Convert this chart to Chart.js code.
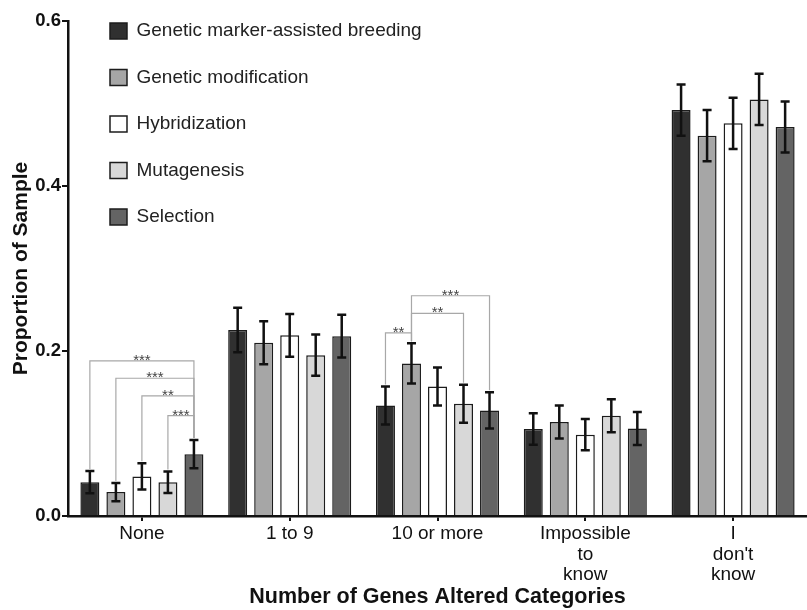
<!DOCTYPE html>
<html>
<head>
<meta charset="utf-8">
<script src="https://cdn.jsdelivr.net/npm/chart.js@4"></script>
<style>
  html, body { margin: 0; padding: 0; background: #fff; }
  canvas { display: block; }
</style>
</head>
<body>
<canvas id="genesChart" width="807" height="610"></canvas>
<script>
// categories on the x axis (arrays = multi-line labels)
const categories = ['None', '1 to 9', '10 or more', ['Impossible', 'to', 'know'], ['I', "don't", 'know']];
const methods = ['Genetic marker-assisted breeding', 'Genetic modification', 'Hybridization', 'Mutagenesis', 'Selection'];
const yTicks = [0, 0.2, 0.4, 0.6];

// proportions and error bar half-widths, one array per method
const markerAssisted = [0.041, 0.2255, 0.134, 0.1055, 0.492];
const markerAssistedErr = [0.0135, 0.027, 0.023, 0.019, 0.031];
const modification = [0.029, 0.210, 0.185, 0.114, 0.461];
const modificationErr = [0.011, 0.026, 0.0245, 0.020, 0.031];
const hybridization = [0.048, 0.219, 0.157, 0.0986, 0.476];
const hybridizationErr = [0.016, 0.026, 0.023, 0.019, 0.031];
const mutagenesis = [0.041, 0.195, 0.136, 0.1216, 0.505];
const mutagenesisErr = [0.013, 0.025, 0.023, 0.020, 0.031];
const selection = [0.075, 0.218, 0.128, 0.106, 0.4715];
const selectionErr = [0.017, 0.026, 0.022, 0.020, 0.031];

// significance brackets: category index, dataset from, dataset to, bracket height, stars
const brackets = [
    [0, 0, 4, 0.188, '***'],
    [0, 1, 4, 0.167, '***'],
    [0, 2, 4, 0.1455, '**'],
    [0, 3, 4, 0.1216, '***'],
    [2, 0, 1, 0.222, '**'],
    [2, 1, 3, 0.2457, '**'],
    [2, 1, 4, 0.267, '***']
];

const colors = ['#303030', '#a6a6a6', '#ffffff', '#d8d8d8', '#646464'];
const values = [markerAssisted, modification, hybridization, mutagenesis, selection];
const errors = [markerAssistedErr, modificationErr, hybridizationErr, mutagenesisErr, selectionErr];

Chart.defaults.font.family = "'Liberation Sans', Arial, sans-serif";
Chart.defaults.color = '#111';

const errorBars = {
    id: 'errorBars',
    afterDatasetsDraw(chart) {
        const ctx = chart.ctx;
        const y = chart.scales.y;
        ctx.save();
        ctx.strokeStyle = '#111';
        ctx.lineWidth = 2.5;
        chart.data.datasets.forEach((ds, i) => {
            chart.getDatasetMeta(i).data.forEach((bar, j) => {
                const top = y.getPixelForValue(ds.data[j] + ds.errors[j]);
                const bottom = y.getPixelForValue(ds.data[j] - ds.errors[j]);
                ctx.beginPath();
                ctx.moveTo(bar.x, top);
                ctx.lineTo(bar.x, bottom);
                ctx.moveTo(bar.x - 4.5, top);
                ctx.lineTo(bar.x + 4.5, top);
                ctx.moveTo(bar.x - 4.5, bottom);
                ctx.lineTo(bar.x + 4.5, bottom);
                ctx.stroke();
            });
        });
        ctx.restore();
    }
};

const sigBrackets = {
    id: 'sigBrackets',
    afterDatasetsDraw(chart) {
        const ctx = chart.ctx;
        const y = chart.scales.y;
        const ds = chart.data.datasets;
        ctx.save();
        brackets.forEach(b => {
            const [cat, a, c, level, stars] = b;
            const barA = chart.getDatasetMeta(a).data[cat];
            const barC = chart.getDatasetMeta(c).data[cat];
            const ly = y.getPixelForValue(level);
            const endA = y.getPixelForValue(ds[a].data[cat] + ds[a].errors[cat]) - 2;
            const endC = y.getPixelForValue(ds[c].data[cat] + ds[c].errors[cat]) - 2;
            ctx.strokeStyle = '#a8a8a8';
            ctx.lineWidth = 1.2;
            ctx.beginPath();
            ctx.moveTo(barA.x, endA);
            ctx.lineTo(barA.x, ly);
            ctx.lineTo(barC.x, ly);
            ctx.lineTo(barC.x, endC);
            ctx.stroke();
            ctx.fillStyle = '#444';
            ctx.font = "15px 'Liberation Sans', Arial, sans-serif";
            ctx.textAlign = 'center';
            ctx.textBaseline = 'alphabetic';
            ctx.fillText(stars, (barA.x + barC.x) / 2, ly + 4);
        });
        ctx.restore();
    }
};

// move the in-plot legend to the top left corner of the plot
const legendPlacer = {
    id: 'legendPlacer',
    afterLayout(chart) {
        const area = chart.chartArea;
        chart.legend.left = area.left + 14.5;
        chart.legend.top = area.top - 27;
    }
};

const ctx = document.getElementById('genesChart').getContext('2d');
const genesChart = new Chart(ctx, {
    type: 'bar',
    data: {
        labels: categories,
        datasets: methods.map((m, i) => ({
            label: m,
            data: values[i],
            errors: errors[i],
            backgroundColor: colors[i],
            borderColor: '#1c1c1c',
            borderWidth: 1.5,
            categoryPercentage: 0.88,
            barPercentage: 0.73
        }))
    },
    options: {
        responsive: false,
        animation: false,
        layout: { padding: { top: 21, left: 0, right: 0, bottom: 0 } },
        scales: {
            x: {
                afterFit(scale) { scale.height = 94; },
                ticks: { font: { size: 19, lineHeight: 1.1 }, color: '#111', padding: 2, autoSkip: false, maxRotation: 0 },
                grid: { offset: false, drawOnChartArea: false, tickLength: 5, color: '#111', lineWidth: 2 },
                border: { color: '#111', width: 2.5 },
                title: {
                    display: true,
                    text: 'Number of Genes Altered Categories',
                    font: { size: 21.5, weight: 'bold' },
                    color: '#111',
                    padding: { top: 0, bottom: 0 }
                }
            },
            y: {
                min: 0,
                max: 0.6,
                afterFit(scale) { scale.width = 68; },
                afterBuildTicks(scale) { scale.ticks = yTicks.map(v => ({ value: v })); },
                ticks: {
                    callback: v => v.toFixed(1),
                    font: { size: 18.5, weight: 'bold' },
                    color: '#111',
                    padding: 1
                },
                grid: { drawOnChartArea: false, tickLength: 6, color: '#111', lineWidth: 2 },
                border: { display: true, color: '#111', width: 2.5 },
                title: {
                    display: true,
                    text: 'Proportion of Sample',
                    font: { size: 21, weight: 'bold' },
                    color: '#111',
                    padding: { top: 9, bottom: 0 }
                }
            }
        },
        plugins: {
            legend: {
                position: 'chartArea',
                align: 'start',
                labels: {
                    font: { size: 19 },
                    color: '#222',
                    boxWidth: 17,
                    boxHeight: 16,
                    padding: 27.5
                }
            },
            tooltip: { enabled: false }
        }
    },
    plugins: [errorBars, sigBrackets, legendPlacer]
});
</script>
</body>
</html>
